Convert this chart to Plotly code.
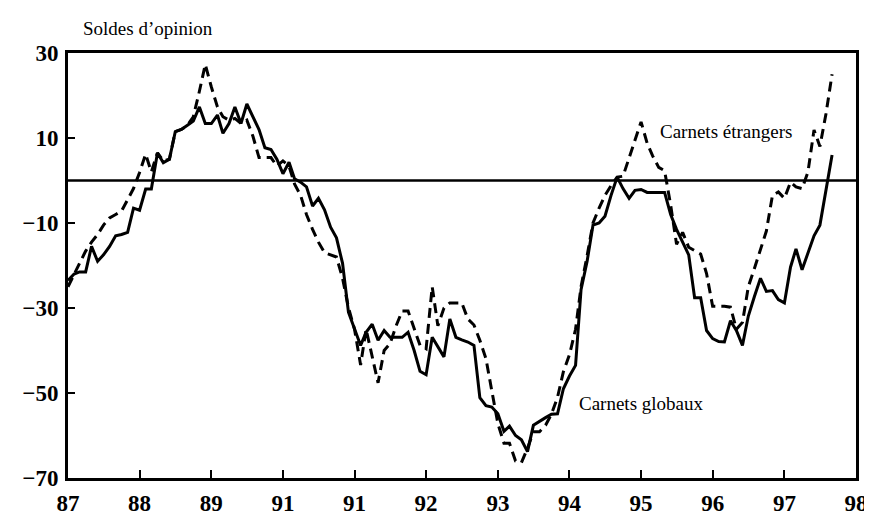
import pandas as pd
import plotly.graph_objects as go

# monthly balances of opinion, Jan 1987 .. Sep 1997
months = pd.date_range("1987-01-01", periods=129, freq="MS")

carnets_globaux = [
    -23.5, -22, -21.5, -21.5, -15.5, -19, -17.5, -15.5, -13, -12.7, -12.2, -6.5,
    -7, -2, -2, 6.5, 4.2, 5, 11.5, 12, 13, 14, 17.3, 13.4,
    13.4, 15.4, 11.1, 13.4, 17.3, 13.4, 18, 15, 12, 7.7, 7.3, 5,
    1.6, 4.3, 0.4, -0.4, -1.5, -6, -4.2, -6.9, -11, -13.5, -19.5, -31,
    -35, -38.8, -35.7, -33.8, -37.6, -35.3, -36.9, -36.9, -36.9, -35.7, -40, -44.9,
    -45.7, -36.9, -39, -41.5, -32.6, -36.9, -37.5, -38, -38.8, -51.1, -53, -53.3,
    -54.9, -59, -57.8, -60, -61, -63.8, -57.6, -56.8, -55.8, -55, -54.9, -49,
    -46, -43.5, -25.7, -19, -10.5, -10, -8.4, -3.5, 0.8, -1.9, -4.2, -2.3,
    -2.1, -2.8, -2.8, -2.8, -2.8, -8, -11.5, -14.5, -17.5, -27.6, -27.6, -35.3,
    -37.2, -37.9, -38, -33, -35.3, -38.8, -31.9, -27.3, -23, -26.1, -25.9, -28,
    -28.8, -20.4, -16.1, -21, -17, -13, -10.5, -2, 6,
]

carnets_etrangers = [
    -25, -22, -19.6, -16.6, -14.5, -12.7, -10.5, -8.8, -8, -7.2, -4.5, -1.9,
    1.9, 6.2, 2, 6.5, 4.6, 5, 11.5, 12, 13, 15, 21, 27.3,
    22, 17.3, 15, 14.2, 14.6, 13.4, 14.2, 10.4, 5.4, 5.4, 5.4, 3.4,
    4.6, 3.4, -0.8, -3.5, -8, -11.5, -14.5, -17, -17.5, -18, -23, -29.9,
    -35, -43.4, -35, -41.5, -47.6, -40, -38.4, -34.2, -30.7, -30.7, -35, -38.8,
    -39.6, -25, -34.2, -30, -28.8, -28.8, -28.8, -32.6, -34, -37.6, -41.9, -49.5,
    -57.2, -61.8, -61.8, -66, -66.4, -63, -59.1, -59.1, -57.6, -55, -51, -45,
    -41, -35, -25, -17.7, -10, -6.5, -3.5, -1.2, 0.8, 1, 5.4, 9.6,
    13.8, 8.8, 5.8, 3.1, 2.3, -5.8, -15, -12.2, -15.7, -16.5, -17.3, -21.9,
    -29.6, -29.6, -29.6, -29.8, -35, -33.4, -25, -20.7, -16.5, -11.9, -3.5, -2.7,
    -4.2, -0.4, -1.5, -1.9, 2, 11.9, 8, 15.7, 25,
]

year_ticks = pd.date_range("1987-01-01", periods=12, freq="YS")
year_labels = ["87", "88", "89", "91", "91", "92", "93", "94", "95", "96", "97", "98"]
y_ticks = [30, 10, -10, -30, -50, -70]

serif = "Liberation Serif, Times New Roman, serif"

fig = go.Figure()
fig.add_trace(go.Scatter(x=months, y=carnets_etrangers, mode="lines",
                         line=dict(color="black", width=3, dash="10px,6px"),
                         name="Carnets étrangers"))
fig.add_trace(go.Scatter(x=months, y=carnets_globaux, mode="lines",
                         line=dict(color="black", width=3),
                         name="Carnets globaux"))

fig.add_hline(y=0, line_color="black", line_width=2.5)

fig.add_annotation(x=0.749, y=11.5, xref="paper", yref="y", text="Carnets étrangers",
                   showarrow=False, xanchor="left", yanchor="middle",
                   font=dict(family=serif, size=19, color="black"))
fig.add_annotation(x=0.646, y=-52.5, xref="paper", yref="y", text="Carnets globaux",
                   showarrow=False, xanchor="left", yanchor="middle",
                   font=dict(family=serif, size=19, color="black"))
fig.add_annotation(x=0.016, y=1.058, xref="paper", yref="paper", text="Soldes d’opinion",
                   showarrow=False, xanchor="left", yanchor="middle",
                   font=dict(family=serif, size=19, color="black"))

fig.update_xaxes(range=[year_ticks[0], year_ticks[-1]], tickvals=year_ticks, ticktext=year_labels,
                 ticks="inside", ticklen=8, tickwidth=2, tickcolor="black",
                 showline=True, linewidth=3, linecolor="black", mirror=True,
                 showgrid=False, zeroline=False, ticklabelstandoff=2,
                 tickfont=dict(family=serif, size=23, color="black", weight="bold"))
fig.update_yaxes(range=[-70, 30], tickvals=y_ticks,
                 ticks="inside", ticklen=7, tickwidth=2, tickcolor="black",
                 showline=True, linewidth=3, linecolor="black", mirror=True,
                 showgrid=False, zeroline=False, ticklabelstandoff=2,
                 tickfont=dict(family=serif, size=23, color="black", weight="bold"))

fig.update_layout(width=872, height=520, showlegend=False,
                  plot_bgcolor="white", paper_bgcolor="white",
                  margin=dict(l=60, r=15, t=45, b=41))

fig.write_html("out.html")
